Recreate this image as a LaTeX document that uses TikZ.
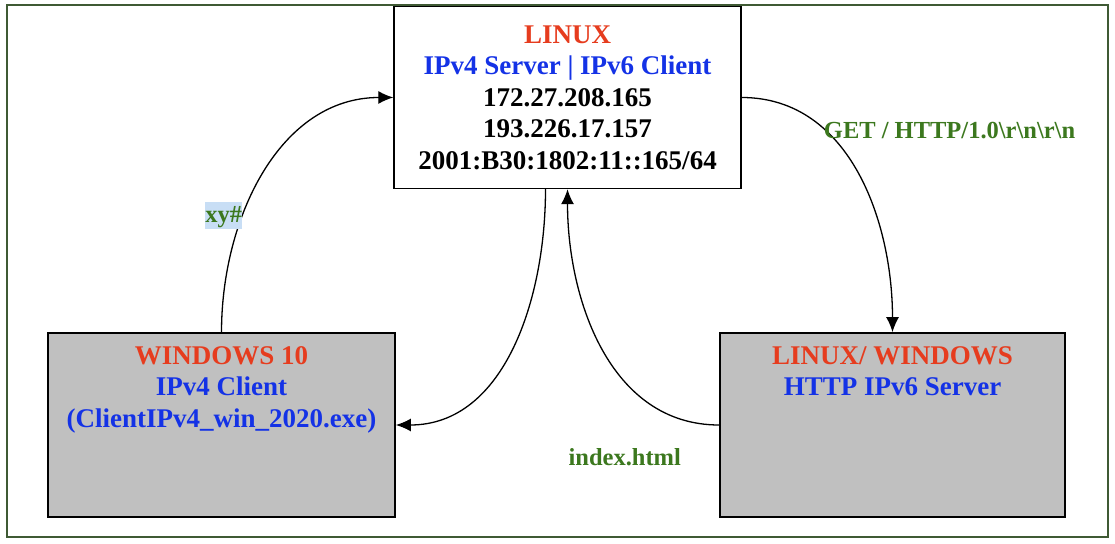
\documentclass[tikz,border=0pt]{standalone}
\usepackage{fontspec}
\setmainfont{Liberation Serif}
\usetikzlibrary{positioning,arrows.meta}
\definecolor{osred}{HTML}{E63C1E}
\definecolor{roleblue}{HTML}{1432E6}
\definecolor{lblgreen}{HTML}{3C781E}
\definecolor{boxgray}{HTML}{C0C0C0}
\definecolor{framegreen}{HTML}{3F5A34}
\definecolor{selblue}{HTML}{C8DEF5}
\tikzset{
	box/.style={draw=black, line width=1.4pt, minimum width=347pt, minimum height=182pt, inner sep=0pt},
	graybox/.style={box, fill=boxgray, minimum height=184pt, line width=1.8pt},
	txt/.style={align=center, inner sep=0pt, font=\fontsize{27}{31.5}\selectfont\bfseries},
	lbl/.style={text=lblgreen, inner sep=1pt, font=\fontsize{24.5}{29}\selectfont\bfseries},
	link/.style={line width=1.3pt, -{Latex[length=15pt,width=13pt]}},
}

\begin{document}
\begin{tikzpicture}[x=1pt,y=1pt]
			%%%%% START %%%%%
			
			\useasboundingbox (0, 0) rectangle (1115, 543);
			\draw[line width=2.2pt, color=framegreen] (7, 6) rectangle (1108, 538);
			
			\node[box, txt] (linux) at (567.5, 445.5) {\textcolor{osred}{LINUX}\\ \textcolor{roleblue}{IPv4 Server | IPv6 Client}\\ 172.27.208.165\\ 193.226.17.157\\ 2001:B30:1802:11::165/64};
			
			\node[graybox] (win) at (221.5, 118) {};
			\node[txt, below=14pt of win.north] (wintxt) {\textcolor{osred}{WINDOWS 10}\\ \textcolor{roleblue}{IPv4 Client}\\ \textcolor{roleblue}{(ClientIPv4\_win\_2020.exe)}};
			
			\node[graybox, minimum width=345pt] (http) at (892.5, 118) {};
			\node[txt, below=14pt of http.north] (httptxt) {\textcolor{osred}{LINUX/ WINDOWS}\\ \textcolor{roleblue}{HTTP IPv6 Server}};
			
			\draw[link] (win.north) to[out=90, in=180] node[lbl, pos=0.35, anchor=east, fill=selblue, inner xsep=0pt, text height=19pt, text depth=6pt] (xy) {xy\#} (linux.west);
			\draw[link] (linux.east) to[out=0, in=90] node[lbl, pos=0.3, anchor=west, yshift=-3pt] (get) {GET / HTTP/1.0\textbackslash r\textbackslash n\textbackslash r\textbackslash n} (http.north);
			
			\draw[link] (http.west) to[out=180, in=-90] (linux.south);
			\node[lbl, below left=22pt and 37pt of http.west] (idx) {index.html};
			\draw[link] ([xshift=-22pt]linux.south) to[out=-90, in=0] (win.east);
			
			%%%%% END %%%%%
\end{tikzpicture}
\end{document}
